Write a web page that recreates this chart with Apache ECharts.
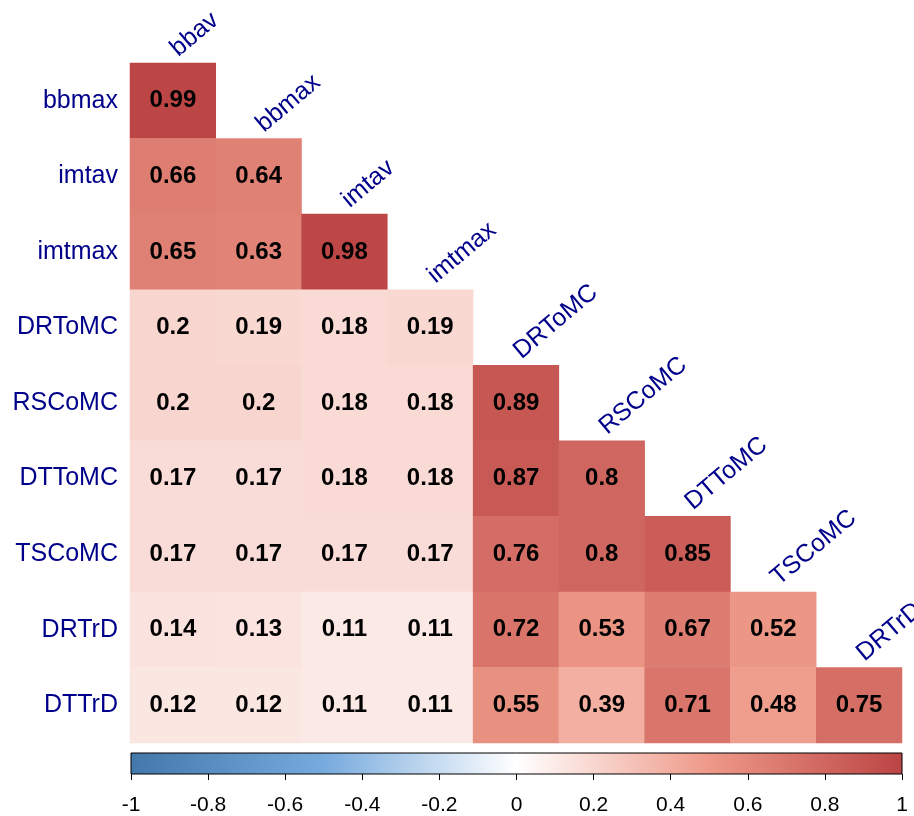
<!DOCTYPE html>
<html>
<head>
<meta charset="utf-8">
<style>
  html, body { margin: 0; padding: 0; background: #fff; }
  #chart { width: 914px; height: 816px; }
</style>
<script src="https://cdn.jsdelivr.net/npm/echarts@6/dist/echarts.min.js"></script>
</head>
<body>
<div id="chart"></div>
<script>
// ---- data ----
const rowNames = ['bbmax', 'imtav', 'imtmax', 'DRToMC', 'RSCoMC', 'DTToMC', 'TSCoMC', 'DRTrD', 'DTTrD'];
const colNames = ['bbav', 'bbmax', 'imtav', 'imtmax', 'DRToMC', 'RSCoMC', 'DTToMC', 'TSCoMC', 'DRTrD'];

const row_bbmax  = [0.99];
const row_imtav  = [0.66, 0.64];
const row_imtmax = [0.65, 0.63, 0.98];
const row_DRToMC = [0.2, 0.19, 0.18, 0.19];
const row_RSCoMC = [0.2, 0.2, 0.18, 0.18, 0.89];
const row_DTToMC = [0.17, 0.17, 0.18, 0.18, 0.87, 0.8];
const row_TSCoMC = [0.17, 0.17, 0.17, 0.17, 0.76, 0.8, 0.85];
const row_DRTrD  = [0.14, 0.13, 0.11, 0.11, 0.72, 0.53, 0.67, 0.52];
const row_DTTrD  = [0.12, 0.12, 0.11, 0.11, 0.55, 0.39, 0.71, 0.48, 0.75];
const rowValues = [row_bbmax, row_imtav, row_imtmax, row_DRToMC, row_RSCoMC,
                   row_DTToMC, row_TSCoMC, row_DRTrD, row_DTTrD];

const paletteStops = [-1, -0.5, 0, 0.5, 1];
const paletteColors = ['#4477AA', '#77AADD', '#FFFFFF', '#EE9988', '#BB4444'];
const colorbarMin = -1, colorbarMax = 1, colorbarStep = 0.2;

// ---- build ----
const heatData = [];
rowValues.forEach((vals, r) => vals.forEach((v, c) => heatData.push([c, r, v])));
const diagData = colNames.map((name, j) => [j, j, name]);

const FONT = '"Liberation Sans", Arial, Helvetica, sans-serif';
const LABEL_COLOR = '#00008B';
const ROT = 40 * Math.PI / 180;

const chart = echarts.init(document.getElementById('chart'), null, { renderer: 'canvas' });
chart.setOption({
  animation: false,
  backgroundColor: '#ffffff',
  textStyle: { fontFamily: FONT },
  grid: [
    { left: 130, right: 12, top: 63, bottom: 73 },
    { left: 131, right: 12, top: 753, height: 24 }
  ],
  xAxis: [
    { type: 'category', data: colNames, gridIndex: 0, show: false },
    { type: 'value', gridIndex: 1, min: colorbarMin, max: colorbarMax, interval: colorbarStep,
      axisLine: { show: false }, splitLine: { show: false },
      axisTick: { show: true, length: 6, lineStyle: { color: '#000', width: 1 } },
      axisLabel: { fontSize: 21, color: '#000', margin: 21, fontFamily: FONT,
        formatter: v => String(Math.round(v * 10) / 10) } }
  ],
  yAxis: [
    { type: 'category', data: rowNames, gridIndex: 0, inverse: true,
      axisLine: { show: false }, axisTick: { show: false }, splitLine: { show: false },
      axisLabel: { fontSize: 25, color: LABEL_COLOR, margin: 12, fontFamily: FONT } },
    { type: 'value', gridIndex: 1, min: 0, max: 1, show: false }
  ],
  visualMap: {
    type: 'continuous', show: false, min: -1, max: 1, seriesIndex: 0, dimension: 2,
    inRange: { color: paletteColors }
  },
  series: [
    {
      type: 'heatmap', xAxisIndex: 0, yAxisIndex: 0, data: heatData,
      itemStyle: { borderWidth: 0 },
      label: { show: true, color: '#000', fontWeight: 'bold', fontSize: 24, fontFamily: FONT,
        formatter: p => String(p.value[2]) },
      emphasis: { disabled: true }
    },
    {
      type: 'custom', xAxisIndex: 0, yAxisIndex: 0, data: diagData, silent: true,
      renderItem: function (params, api) {
        const c = api.value(0), r = api.value(1);
        const pt = api.coord([c, r]);
        const sz = api.size([1, 1]);
        return {
          type: 'text',
          x: pt[0] + 9,
          y: pt[1] - sz[1] / 2 - 1.5,
          rotation: ROT,
          style: {
            text: colNames[c],
            fill: LABEL_COLOR,
            font: '25px ' + FONT,
            align: 'left', verticalAlign: 'bottom',
            textAlign: 'left', textVerticalAlign: 'bottom'
          }
        };
      }
    },
    {
      type: 'custom', xAxisIndex: 1, yAxisIndex: 1, data: [[colorbarMin, 0, colorbarMax, 1]], silent: true,
      renderItem: function (params, api) {
        const p0 = api.coord([api.value(0), api.value(3)]);
        const p1 = api.coord([api.value(2), api.value(1)]);
        const span = colorbarMax - colorbarMin;
        return {
          type: 'rect',
          shape: { x: p0[0], y: p0[1], width: p1[0] - p0[0], height: p1[1] - p0[1] },
          style: {
            fill: new echarts.graphic.LinearGradient(0, 0, 1, 0,
              paletteStops.map((s, i) => ({ offset: (s - colorbarMin) / span, color: paletteColors[i] }))),
            stroke: '#000', lineWidth: 1
          }
        };
      }
    }
  ]
});
</script>
</body>
</html>
